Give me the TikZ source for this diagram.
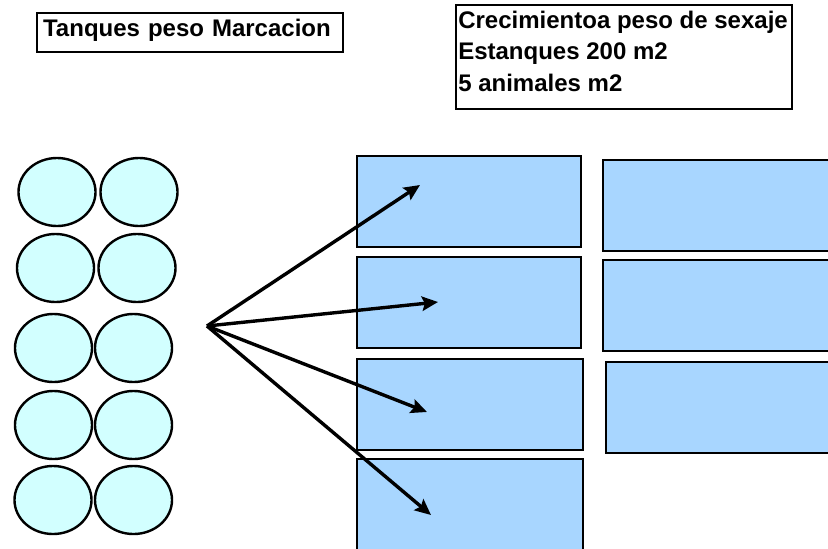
\documentclass[tikz,border=0pt]{standalone}
\usepackage{fontspec}
\setmainfont{Liberation Sans}
\usetikzlibrary{shapes.geometric, arrows.meta, positioning}
\usepackage{xcolor}
\definecolor{tankcyan}{RGB}{210, 255, 255}
\definecolor{pondblue}{RGB}{168, 214, 255}
\definecolor{textdark}{RGB}{0, 0, 0}

\begin{document}
\begin{tikzpicture}[
    x=0.025cm, y=-0.025cm,
    tank/.style={ellipse, draw=textdark, fill=tankcyan, minimum width=1.925cm, minimum height=1.7cm, inner sep=0pt, line width=0.06cm},
    pond/.style={rectangle, draw=textdark, fill=pondblue, minimum width=5.6cm, minimum height=2.275cm, inner sep=0pt, line width=0.06cm},
    note/.style={rectangle, draw=textdark, line width=0.055cm},
    notetext/.style={font=\fontsize{17.07}{22.4}\selectfont\bfseries, align=left, inner sep=0pt, color=textdark},
    arrow/.style={-{Stealth[length=0.4cm, width=0.36cm, inset=0.07cm]}, line width=0.085cm, color=textdark},
]
\useasboundingbox (0,0) rectangle (828,548);

% Titles
\node[note, notetext, anchor=north west, text width=7.35cm, inner xsep=0.15cm, inner ysep=0.15cm, text height=0.425cm, text depth=0.25cm] (marking) at (36,12) {Tanques peso Marcacion};

\node[note, minimum width=8.4cm, minimum height=2.6cm] (growth) at (624,57) {};
\node[notetext, anchor=north west] (growthtext) at (458,10.8) {Crecimientoa peso de sexaje\\Estanques 200 m2\\5 animales m2};

% Marking tanks
\node[tank] (tank11) at (57,192) {};
\node[tank] (tank12) at (139,192) {};
\node[tank] (tank21) at (55.5,268) {};
\node[tank] (tank22) at (137,268) {};
\node[tank] (tank31) at (53.5,348) {};
\node[tank] (tank32) at (133.5,348) {};
\node[tank] (tank41) at (53.5,425) {};
\node[tank] (tank42) at (133.5,425) {};
\node[tank] (tank51) at (53,500) {};
\node[tank] (tank52) at (133.5,500) {};

% Growth ponds
\node[pond] (pond1) at (469,201.5) {};
\node[pond] (pond2) at (469,302.5) {};
\node[pond, minimum width=5.65cm] (pond3) at (470,404.5) {};
\node[pond, minimum width=5.65cm] (pond4) at (470,504.5) {};

\node[pond, minimum width=5.75cm] (pond5) at (718,205.5) {};
\node[pond, minimum width=5.75cm] (pond6) at (718,305.5) {};
\node[pond, minimum width=5.75cm] (pond7) at (721,407.5) {};

% Transfer arrows
\coordinate (hub) at (207,326);
\coordinate (tip1) at (420,185);
\coordinate (tip2) at (438,302);
\coordinate (tip3) at (427,412);
\coordinate (tip4) at (431,515);

\draw[arrow] (hub) -- (tip1);
\draw[arrow] (hub) -- (tip2);
\draw[arrow] (hub) -- (tip3);
\draw[arrow] (hub) -- (tip4);

\end{tikzpicture}
\end{document}
